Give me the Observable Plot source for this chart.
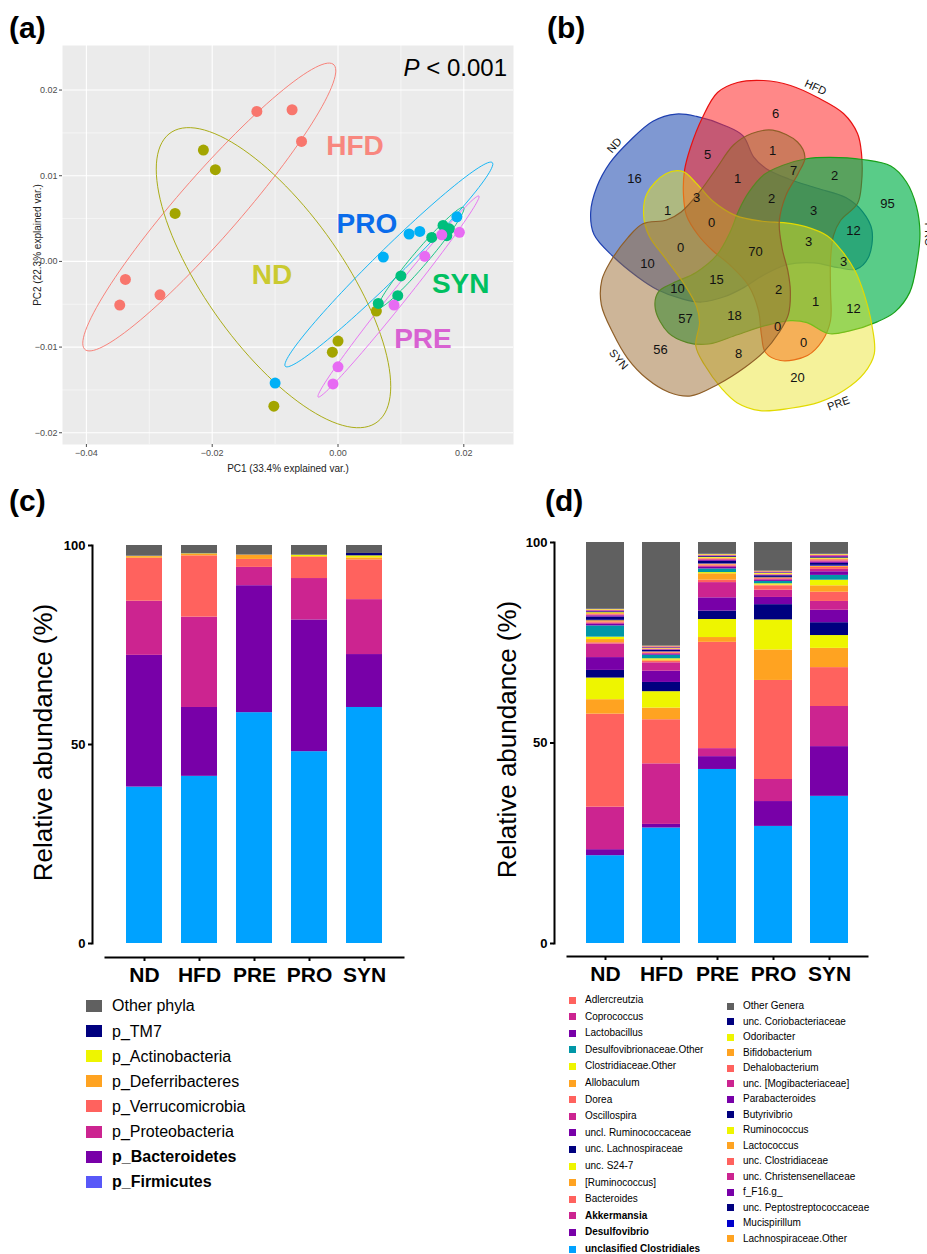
<!DOCTYPE html>
<html><head><meta charset="utf-8">
<script src="https://cdn.jsdelivr.net/npm/d3@7"></script>
<script src="https://cdn.jsdelivr.net/npm/@observablehq/plot@0.6"></script>
<style>
body{margin:0;background:#fff;}
#root{position:relative;width:927px;height:1254px;overflow:hidden;background:#fff;font-family:"Liberation Sans",Arial,sans-serif;color:#000;}
.plabel{position:absolute;font-weight:bold;font-size:30px;line-height:30px;}
.lg{position:absolute;white-space:nowrap;}
</style></head><body><div id="root"></div>
<script>
// ---------------- (a) PCA ----------------
const pcaGroups = ["HFD","ND","PRO","SYN","PRE"];
const pcaColors = ["#F8766D","#A3A500","#00B0F6","#00BF7D","#E76BF3"];
const pcaLabelColors = ["#F8877F","#CACA30","#0A6CEB","#00C060","#D862D2"];
const pcaLabelX = [0.0027, -0.0105, 0.0046, 0.0195, 0.0135];
const pcaLabelY = [0.0135, -0.0016, 0.0044, -0.0026, -0.0091];
const pcaGroup = ["HFD","HFD","HFD","HFD","HFD","HFD",
  "ND","ND","ND","ND","ND","ND","ND",
  "PRO","PRO","PRO","PRO","PRO",
  "SYN","SYN","SYN","SYN","SYN","SYN","SYN",
  "PRE","PRE","PRE","PRE","PRE","PRE"];
const pc1 = [-0.0129,-0.0073,-0.0058,-0.0338,-0.0347,-0.0283,
  -0.0214,-0.0195,-0.0259,0.0061,0.0000,-0.0009,-0.0102,
  0.0072,0.0113,0.0130,0.0189,-0.0100,
  0.0149,0.0167,0.0177,0.0173,0.0100,0.0095,0.0064,
  0.0165,0.0193,0.0138,0.0089,0.0000,-0.0008];
const pc2 = [0.0175,0.0177,0.0140,-0.0021,-0.0051,-0.0039,
  0.0130,0.0107,0.0056,-0.0058,-0.0093,-0.0106,-0.0169,
  0.0005,0.0032,0.0035,0.0052,-0.0142,
  0.0028,0.0042,0.0038,0.0030,-0.0017,-0.0040,-0.0049,
  0.0031,0.0034,0.0006,-0.0051,-0.0123,-0.0143];
const pcaXTicks = [-0.04,-0.02,0,0.02];
const pcaYTicks = [-0.02,-0.01,0,0.01,0.02];

// ---------------- (b) Venn ----------------
const vennSets = ["ND","HFD","PRO","PRE","SYN"];
const vennAngles = [-72, 0, 72, 144, 216];
const vennFill = ["#2A53B4","#FF2727","#00B148","#E9E21F","#9B6B31"];
const vennFillOpacity = [0.6,0.55,0.65,0.45,0.5];
const vennStroke = ["#1E3FB0","#E81010","#17A017","#E2DA00","#8F5F28"];
// outline of one set (HFD) relative to the diagram centre
const vennShapeX = [-69,-63,-51,-36,-16,10,37,64,90,104,108,108,104,87,80,77,77,77,69,54,27,12,8,5,-5,-23,-41,-55,-67,-70];
const vennShapeY = [-78,-101,-131,-156,-166,-168,-163,-151,-135,-115,-95,-65,-45,-28,-13,12,42,72,92,107,112,104,87,62,37,17,2,-13,-33,-53];
const vennCounts = [16,6,5,1,7,2,95,1,3,1,2,3,12,0,0,70,3,3,10,15,10,2,1,12,57,18,0,0,56,8,20];
const vennCountX = [-119,22,-46,19,40,81,134,-86,-57,-16,18,60,100,-42,-73,2,55,90,-106,-37,-76,25,62,100,-68,-19,24,50,-93,-15,44];
const vennCountY = [-70,-135,-94,-98,-78,-73,-45,-38,-51,-70,-50,-38,-18,-26,-1,3,-7,13,15,31,40,41,53,60,70,67,78,94,101,105,129];
const vennLabelX = [-139,62,175,85,-135];
const vennLabelY = [-103,-161,-14,155,111];
const vennLabelRotate = [-50,25,90,-20,50];

// ---------------- (c) phyla ----------------
const barGroups = ["ND","HFD","PRE","PRO","SYN"];
const phyla = ["p_Firmicutes","p_Bacteroidetes","p_Proteobacteria","p_Verrucomicrobia","p_Deferribacteres","p_Actinobacteria","p_TM7","Other phyla"];
const phylaColors = ["#00A2FF","#7800A8","#CC2490","#FF625E","#FFA321","#EEF500","#00007F","#606060"];
const phylaLegendColors = ["#5858F8","#7800A8","#CC2490","#FF625E","#FFA321","#EEF500","#00007F","#606060"];
const phylaBold = ["p_Firmicutes","p_Bacteroidetes"];
const phylaND  = [39.3,33.1,13.6,10.8,0.4,0.1,0.1,2.6];
const phylaHFD = [42.0,17.3,22.7,15.4,0.4,0.1,0.0,2.1];
const phylaPRE = [58.0,31.9,4.6,2.0,1.1,0.0,0.0,2.4];
const phylaPRO = [48.2,33.1,10.4,5.3,0.2,0.4,0.1,2.3];
const phylaSYN = [59.3,13.3,13.8,10.0,0.5,0.5,0.6,2.0];

// ---------------- (d) genera ----------------
const genera = ["unclasified Clostridiales","Desulfovibrio","Akkermansia","Bacteroides","[Ruminococcus]","unc. S24-7",
  "unc. Lachnospiraceae","uncl. Ruminococcaceae","Oscillospira","Dorea","Allobaculum","Clostridiaceae.Other",
  "Desulfovibrionaceae.Other","Lactobacillus","Coprococcus","Adlercreutzia","Lachnospiraceae.Other","Mucispirillum",
  "unc. Peptostreptococcaceae","f_F16.g_","unc. Christensenellaceae","unc. Clostridiaceae","Lactococcus","Ruminococcus",
  "Butyrivibrio","Parabacteroides","unc. [Mogibacteriaceae]","Dehalobacterium","Bifidobacterium","Odoribacter",
  "unc. Coriobacteriaceae","Other Genera"];
const generaColors = ["#00A2FF","#7800A8","#CC2490","#FF625E","#FFA321","#EEF500",
  "#00007F","#7800A8","#CC2490","#FF625E","#FFA321","#EEF500",
  "#0097A7","#7800A8","#CC2490","#FF625E","#FFA321","#0000CC",
  "#00007F","#7800A8","#CC2490","#FF625E","#FFA321","#EEF500",
  "#00007F","#7800A8","#CC2490","#FF625E","#FFA321","#EEF500",
  "#00007F","#606060"];
const generaBold = ["unclasified Clostridiales","Desulfovibrio","Akkermansia"];
const generaND  = [21.9,1.5,10.6,23.2,3.6,5.4,1.9,3.2,3.4,0.3,0.8,0.6,2.8,0.4,0.3,0.3,0.3,0.1,0.8,0.3,0.2,0.2,0.2,0.2,0.2,0.2,0.1,0.1,0.1,0.1,0.1,16.6];
const generaHFD = [28.8,0.9,15.1,11.0,2.9,4.1,2.3,2.8,2.1,0.4,0.3,0.3,0.9,0.2,0.2,0.2,0.2,0.1,0.3,0.1,0.1,0.1,0.1,0.1,0.1,0.1,0.1,0.1,0.1,0.1,0.1,25.7];
const generaPRE = [43.4,3.2,2.0,26.5,1.2,4.5,2.1,3.3,3.8,0.6,1.6,0.3,0.9,0.4,0.3,0.3,0.2,0.1,0.6,0.2,0.2,0.2,0.2,0.2,0.2,0.1,0.1,0.1,0.1,0.1,0.1,2.9];
const generaPRO = [29.2,6.2,5.5,24.7,7.6,7.5,3.8,1.8,1.8,1.1,0.2,0.3,0.6,0.3,0.2,0.2,0.2,0.1,0.4,0.1,0.1,0.1,0.1,0.2,0.1,0.1,0.1,0.1,0.1,0.1,0.1,7.0];
const generaSYN = [36.7,12.4,10.0,9.7,4.8,3.2,3.2,3.1,2.2,2.3,1.6,1.4,1.2,0.9,0.6,0.5,0.3,0.2,0.5,0.3,0.3,0.3,0.2,0.2,0.2,0.2,0.2,0.1,0.1,0.1,0.1,2.9];

// =====================================================
const root = document.getElementById("root");
const FONT = "'Liberation Sans', Arial, sans-serif";
const baseStyle = {background: "transparent", fontFamily: FONT, overflow: "visible"};
function place(el, left, top) {
  el.style.position = "absolute"; el.style.left = left + "px"; el.style.top = top + "px";
  root.appendChild(el);
}
function html(tag, cls, css, content) {
  const e = document.createElement(tag); if (cls) e.className = cls;
  Object.assign(e.style, css); e.innerHTML = content; root.appendChild(e); return e;
}

// ---------- panel (a) ----------
const colorOf = Object.fromEntries(pcaGroups.map((g, i) => [g, pcaColors[i]]));
const pcaPoints = pcaGroup.map((g, i) => ({group: g, x: pc1[i], y: pc2[i]}));
function ellipse(group) {
  const pts = pcaPoints.filter(d => d.group === group);
  const xs = pts.map(d => d.x), ys = pts.map(d => d.y);
  const mx = d3.mean(xs), my = d3.mean(ys);
  const sxx = d3.variance(xs), syy = d3.variance(ys);
  const sxy = d3.sum(xs, (x, i) => (x - mx) * (ys[i] - my)) / (xs.length - 1);
  const a = Math.sqrt(sxx), b = sxy / a, c = Math.sqrt(Math.max(0, syy - b * b));
  const ed = Math.sqrt(-2 * Math.log(1 - 0.68));
  return d3.range(120).map(k => {
    const t = 2 * Math.PI * k / 120;
    return {group, x: mx + ed * a * Math.cos(t), y: my + ed * (b * Math.cos(t) + c * Math.sin(t))};
  });
}
const ellipses = pcaGroups.flatMap(ellipse);
const pcaLabels = pcaGroups.map((g, i) => ({text: g, x: pcaLabelX[i], y: pcaLabelY[i], color: pcaLabelColors[i]}));
const fmt2 = d3.format(".2f");

const plotA = Plot.plot({
  width: 540, height: 480, marginLeft: 62, marginRight: 27, marginTop: 45, marginBottom: 36,
  style: baseStyle,
  x: {domain: [-0.0438, 0.0279]},
  y: {domain: [-0.02137, 0.0252]},
  marks: [
    Plot.frame({fill: "#EBEBEB", stroke: "none"}),
    Plot.gridX({ticks: [-0.03, -0.01, 0.01], stroke: "#fff", strokeOpacity: 1, strokeWidth: 0.5}),
    Plot.gridY({ticks: [-0.015, -0.005, 0.005, 0.015], stroke: "#fff", strokeOpacity: 1, strokeWidth: 0.5}),
    Plot.gridX({ticks: pcaXTicks, stroke: "#fff", strokeOpacity: 1, strokeWidth: 1.1}),
    Plot.gridY({ticks: pcaYTicks, stroke: "#fff", strokeOpacity: 1, strokeWidth: 1.1}),
    Plot.line(ellipses, {x: "x", y: "y", z: "group", stroke: d => colorOf[d.group], curve: "linear-closed", strokeWidth: 0.9}),
    Plot.dot(pcaPoints, {x: "x", y: "y", fill: d => colorOf[d.group], r: 5.5, stroke: "none"}),
    Plot.text(pcaLabels, {x: "x", y: "y", text: "text", fill: "color", fontSize: 28, fontWeight: "bold"}),
    Plot.axisX({ticks: pcaXTicks, tickFormat: fmt2, tickSize: 3, tickPadding: 2, fontSize: 9, color: "#4D4D4D", label: null}),
    Plot.axisY({ticks: pcaYTicks, tickFormat: fmt2, tickSize: 3, tickPadding: 2, fontSize: 9, color: "#4D4D4D", label: null}),
    Plot.text(["PC1 (33.4% explained var.)"], {text: d => d, frameAnchor: "bottom", textAnchor: "middle", lineAnchor: "middle", dy: 24, fontSize: 10, fill: "#222"}),
    Plot.text(["PC2 (22.3% explained var.)"], {text: d => d, frameAnchor: "left", textAnchor: "middle", lineAnchor: "middle", rotate: -90, dx: -25, fontSize: 10, fill: "#222"})
  ]
});
place(plotA, 0, 0);
html("div", "", {position: "absolute", left: "380px", width: "127px", textAlign: "right", top: "55px", fontSize: "24px", lineHeight: "26px"}, "<i>P</i> &lt; 0.001");

// ---------- panel (b) ----------
const vennShapes = vennSets.map((s, i) => {
  const t = vennAngles[i] * Math.PI / 180, ct = Math.cos(t), st = Math.sin(t);
  return vennShapeX.map((x, k) => ({set: s, x: x * ct - vennShapeY[k] * st, y: x * st + vennShapeY[k] * ct}));
});
const vennCountData = vennCounts.map((n, i) => ({n, x: vennCountX[i], y: vennCountY[i]}));
const vennLabelData = vennSets.map((s, i) => ({s, x: vennLabelX[i], y: vennLabelY[i], r: vennLabelRotate[i]}));
const plotB = Plot.plot({
  width: 387, height: 440, margin: 0, style: baseStyle,
  x: {domain: [-213, 174], axis: null},
  y: {domain: [-208, 232], reverse: true, axis: null},
  marks: [
    ...vennShapes.map((pts, i) => Plot.line(pts, {x: "x", y: "y", curve: "catmull-rom-closed",
      fill: vennFill[i], fillOpacity: vennFillOpacity[i], stroke: vennStroke[i], strokeWidth: 1.2})),
    Plot.text(vennCountData, {x: "x", y: "y", text: "n", fontSize: 13, fill: "#111"}),
    Plot.text(vennLabelData, {x: "x", y: "y", text: "s", rotate: "r", fontSize: 11, fill: "#111"})
  ]
});
place(plotB, 540, 40);

// ---------- panel labels ----------
html("div", "plabel", {left: "9px", top: "13px"}, "(a)");
html("div", "plabel", {left: "547px", top: "13px"}, "(b)");
html("div", "plabel", {left: "9px", top: "486px"}, "(c)");
html("div", "plabel", {left: "545px", top: "486px"}, "(d)");

// ---------- stacked bar helper ----------
function stackPlot(tidy, o) {
  return Plot.plot({
    width: o.width, height: 480, marginLeft: o.axisX, marginRight: o.width - o.x1, marginTop: o.yTop, marginBottom: 480 - o.xLineY,
    style: baseStyle,
    x: {domain: barGroups, range: [o.x0, o.x1], padding: o.padding},
    y: {domain: [0, 100], range: [o.yZero, o.yTop]},
    color: {type: "identity"},
    marks: [
      Plot.barY(tidy, {x: "group", y: "value", z: "taxon", fill: "color"}),
      Plot.frame({anchor: "left", insetBottom: o.xLineY - o.yZero, strokeWidth: 2}),
      Plot.frame({anchor: "bottom", insetLeft: o.x0 - o.axisX, strokeWidth: 2}),
      Plot.axisY({ticks: [0, 50, 100], tickSize: 4, tickPadding: 3, fontSize: 13, fontWeight: "bold", strokeWidth: 2, label: null}),
      Plot.axisX({tickSize: 4, tickPadding: 6, fontSize: 21, fontWeight: "bold", strokeWidth: 2, label: null}),
      Plot.text(["Relative abundance (%)"], {text: d => d, frameAnchor: "left", textAnchor: "middle", lineAnchor: "middle", rotate: -90, dx: o.labelDx, dy: o.labelDy, fontSize: 26})
    ]
  });
}

// ---------- panel (c) ----------
const phylaByGroup = [phylaND, phylaHFD, phylaPRE, phylaPRO, phylaSYN];
const phylaTidy = barGroups.flatMap((g, gi) => phyla.map((p, pi) => ({group: g, taxon: p, value: phylaByGroup[gi][pi], color: phylaColors[pi]})));
place(stackPlot(phylaTidy, {width: 460, axisX: 92, x0: 105, x1: 403, padding: 0.34, yTop: 25, yZero: 423, xLineY: 437, labelDx: -49, labelDy: -9}), 0, 520);

// ---------- panel (d) ----------
const generaByGroup = [generaND, generaHFD, generaPRE, generaPRO, generaSYN];
const generaTidy = barGroups.flatMap((g, gi) => genera.map((p, pi) => ({group: g, taxon: p, value: generaByGroup[gi][pi], color: generaColors[pi]})));
place(stackPlot(generaTidy, {width: 467, axisX: 94, x0: 107, x1: 407, padding: 0.33, yTop: 22, yZero: 423, xLineY: 436, labelDx: -47, labelDy: -10}), 460, 520);

// ---------- legends ----------
function legendRow(name, color, bold, sx, tx, cy, sw, sh, fs) {
  html("div", "lg", {left: sx + "px", top: (cy - sh / 2) + "px", width: sw + "px", height: sh + "px", background: color}, "");
  html("div", "lg", {left: tx + "px", top: (cy - fs * 0.6) + "px", fontSize: fs + "px", lineHeight: (fs * 1.2) + "px", fontWeight: bold ? "bold" : "normal"}, name);
}
phyla.slice().reverse().forEach((p, i) => {
  const k = phyla.length - 1 - i;
  legendRow(p, phylaLegendColors[k], phylaBold.includes(p), 86, 112, 1006 + i * 25.1, 16, 12, 16);
});
const generaRev = genera.map((g, i) => i).reverse();
generaRev.slice(0, 16).forEach((k, i) => legendRow(genera[k], generaColors[k], generaBold.includes(genera[k]), 727, 743, 1006 + i * 15.5, 7, 7, 10));
generaRev.slice(16).forEach((k, i) => legendRow(genera[k], generaColors[k], generaBold.includes(genera[k]), 569, 585, 1000 + i * 16.6, 7, 7, 10));
</script></body></html>
